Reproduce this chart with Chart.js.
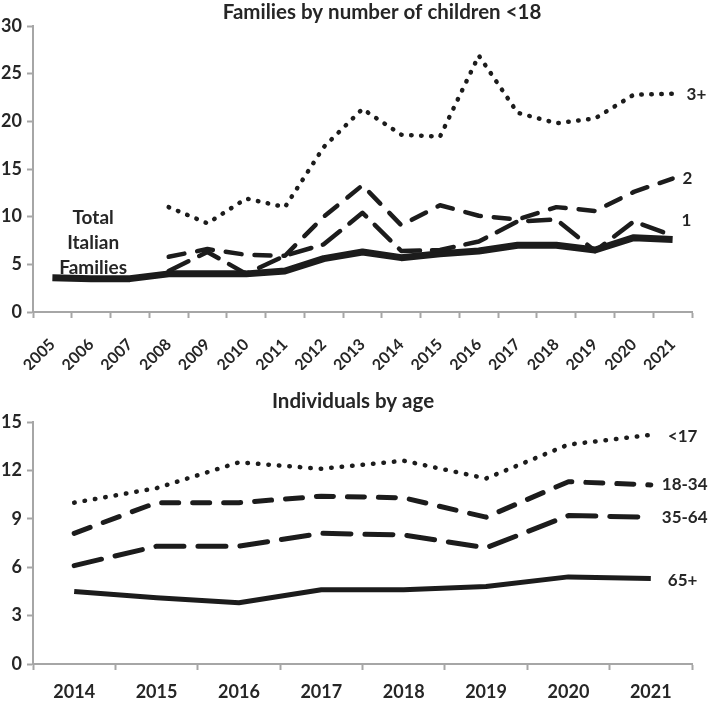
<!DOCTYPE html>
<html>
<head>
<meta charset="utf-8">
<script src="https://cdn.jsdelivr.net/npm/chart.js@4.4.0/dist/chart.umd.min.js"></script>
<style>
  html, body { margin: 0; padding: 0; background: #fff; }
  #wrap { position: relative; width: 708px; height: 703px; }
  #topChart { position: absolute; left: 0; top: 0; }
  #bottomChart { position: absolute; left: 0; top: 370px; }
</style>
</head>
<body>
<div id="wrap">
  <canvas id="topChart" width="708" height="370"></canvas>
  <canvas id="bottomChart" width="708" height="333"></canvas>
</div>
<script>
// families by number of children <18
var familyYears = ["2005", "2006", "2007", "2008", "2009", "2010", "2011", "2012", "2013",
	"2014", "2015", "2016", "2017", "2018", "2019", "2020", "2021"];
var totalFamilies = [3.6, 3.5, 3.5, 4.0, 4.0, 4.0, 4.3, 5.6, 6.3, 5.7, 6.1, 6.4, 7.0, 7.0, 6.5, 7.8, 7.6];
var oneChild = [null, null, null, 4.3, 6.3, 4.0, 5.9, 7.1, 10.4, 6.4, 6.5, 7.4, 9.5, 9.7, 6.4, 9.5, 8.0];
var twoChildren = [null, null, null, 5.8, 6.6, 6.0, 5.9, 10.0, 13.3, 9.1, 11.2, 10.1, 9.7, 11.0, 10.6, 12.6, 14.0];
var threePlus = [null, null, null, 11.0, 9.3, 11.9, 11.0, 17.3, 21.3, 18.6, 18.4, 26.9, 20.9, 19.8, 20.3, 22.8, 22.9];
var familyTicks = [0, 5, 10, 15, 20, 25, 30];

// individuals by age
var ageYears = ["2014", "2015", "2016", "2017", "2018", "2019", "2020", "2021"];
var under17 = [10.0, 10.9, 12.5, 12.1, 12.6, 11.5, 13.6, 14.2];
var age18to34 = [8.1, 10.0, 10.0, 10.4, 10.3, 9.1, 11.3, 11.1];
var age35to64 = [6.1, 7.3, 7.3, 8.1, 8.0, 7.2, 9.2, 9.1];
var age65plus = [4.5, 4.1, 3.8, 4.6, 4.6, 4.8, 5.4, 5.3];
var ageTicks = [0, 3, 6, 9, 12, 15];

var ink = "#1c1c1c";
var textInk = "#262626";
var axisGray = "#a6a6a6";
var fontName = "Lato";

Chart.defaults.font.family = fontName;
Chart.defaults.color = textInk;

function makeTextPlugin(cfg) {
	return {
		id: "sideText",
		afterDraw: function(chart) {
			var ctx = chart.ctx;
			var xs = chart.scales.x, ys = chart.scales.y;
			ctx.save();
			ctx.fillStyle = textInk;
			ctx.textBaseline = "alphabetic";
			ctx.textAlign = "center";
			ctx.font = "bold " + cfg.titleSize + "px " + fontName;
			ctx.fillText(cfg.title, cfg.titleX, cfg.titleY);
			ctx.textBaseline = "middle";
			cfg.notes.forEach(function(n) {
				ctx.font = "bold " + n.size + "px " + fontName;
				ctx.textAlign = n.align;
				var px = xs.getPixelForValue(n.at) + n.dx;
				var py = ys.getPixelForValue(n.value);
				n.lines.forEach(function(line, i) {
					ctx.fillText(line, px, py + i * n.gap);
				});
			});
			ctx.restore();
		}
	};
}

function lineSet(data, width, dash) {
	return {
		data: data,
		borderColor: ink,
		borderWidth: width,
		borderDash: dash,
		borderCapStyle: dash.length ? "round" : "butt",
		borderJoinStyle: "round",
		pointRadius: 0,
		tension: 0,
		fill: false
	};
}

function axes(tickValues, yMax, xFont, rotate, xPad, yAxisWidth, xAxisHeight) {
	return {
		x: {
			type: "category",
			offset: true,
			grid: { display: true, drawOnChartArea: false, drawTicks: true, offset: true,
				tickLength: 6, tickWidth: 2, tickColor: axisGray, color: axisGray },
			border: { display: true, color: axisGray, width: 2 },
			ticks: { autoSkip: false, maxRotation: rotate, minRotation: rotate, padding: xPad,
				color: textInk, font: { size: xFont, weight: "bold" } },
			afterFit: function(s) { s.height = xAxisHeight; }
		},
		y: {
			min: 0,
			max: yMax,
			grid: { display: true, drawOnChartArea: false, drawTicks: true,
				tickLength: 6, tickWidth: 2, tickColor: axisGray, color: axisGray },
			border: { display: true, color: axisGray, width: 2 },
			ticks: { padding: 5, color: textInk, font: { size: 18, weight: "bold" } },
			afterBuildTicks: function(s) {
				s.ticks = tickValues.map(function(v) { return { value: v }; });
			},
			afterFit: function(s) { s.width = yAxisWidth; }
		}
	};
}

var topChart = new Chart(document.getElementById("topChart"), {
	type: "line",
	data: {
		labels: familyYears,
		datasets: [
			lineSet(threePlus, 4.5, [0.5, 9.5]),
			lineSet(twoChildren, 4.5, [16, 13]),
			lineSet(oneChild, 4.5, [22, 12]),
			lineSet(totalFamilies, 7, [])
		]
	},
	options: {
		responsive: false,
		animation: false,
		layout: { padding: { top: 26, right: 16, left: 0, bottom: 0 } },
		plugins: { legend: { display: false }, tooltip: { enabled: false }, title: { display: false } },
		scales: axes(familyTicks, 30, 16, 45, 17, 33, 58)
	},
	plugins: [makeTextPlugin({
		title: "Families by number of children <18", titleSize: 20.5, titleX: 382, titleY: 19,
		notes: [
			{ lines: ["3+"], at: 16, value: 22.8, dx: 14, align: "left", size: 17, gap: 0 },
			{ lines: ["2"], at: 16, value: 14.0, dx: 10, align: "left", size: 17, gap: 0 },
			{ lines: ["1"], at: 16, value: 9.6, dx: 9, align: "left", size: 17, gap: 0 },
			{ lines: ["Total", "Italian", "Families"], at: 1, value: 9.9, dx: 2, align: "center", size: 19, gap: 25 }
		]
	})]
});

var bottomChart = new Chart(document.getElementById("bottomChart"), {
	type: "line",
	data: {
		labels: ageYears,
		datasets: [
			lineSet(under17, 4.5, [0.5, 10]),
			lineSet(age18to34, 5, [17, 14]),
			lineSet(age35to64, 5, [28, 14]),
			lineSet(age65plus, 5, [])
		]
	},
	options: {
		responsive: false,
		animation: false,
		layout: { padding: { top: 52, right: 16, left: 0, bottom: 0 } },
		plugins: { legend: { display: false }, tooltip: { enabled: false }, title: { display: false } },
		scales: axes(ageTicks, 15, 18, 0, 11, 33, 39)
	},
	plugins: [makeTextPlugin({
		title: "Individuals by age", titleSize: 20.5, titleX: 353, titleY: 38,
		notes: [
			{ lines: ["<17"], at: 7, value: 14.1, dx: 17, align: "left", size: 17, gap: 0 },
			{ lines: ["18-34"], at: 7, value: 11.1, dx: 11, align: "left", size: 17, gap: 0 },
			{ lines: ["35-64"], at: 7, value: 9.1, dx: 11, align: "left", size: 17, gap: 0 },
			{ lines: ["65+"], at: 7, value: 5.2, dx: 17, align: "left", size: 17, gap: 0 }
		]
	})]
});
</script>
</body>
</html>
